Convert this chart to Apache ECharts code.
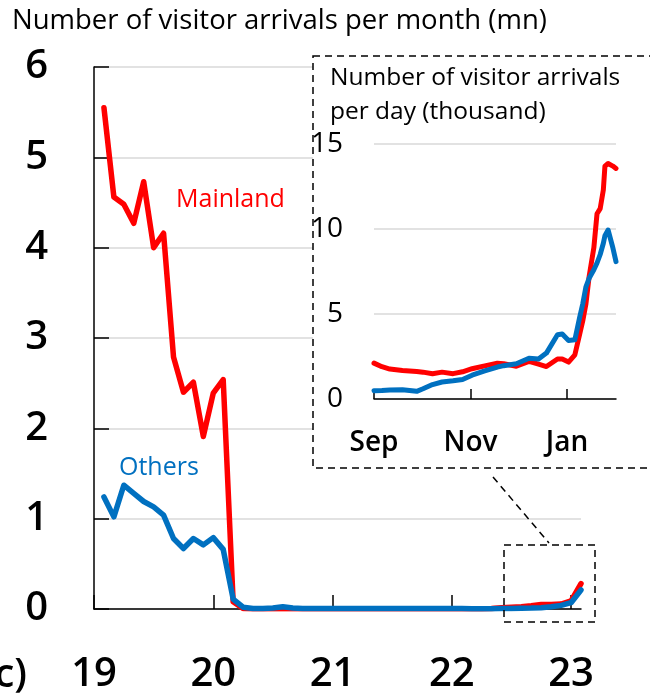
<!DOCTYPE html>
<html><head><meta charset="utf-8">
<script src="https://cdn.jsdelivr.net/npm/echarts@6/dist/echarts.min.js"></script>
<style>html,body{margin:0;padding:0;background:#fff}#c{width:650px;height:696px}</style>
</head><body><div id="c"></div>
<script>
// ---- Main chart: monthly arrivals (mn), Jan 2019 .. Jan 2023 ----
const yearTickLabels = ['19', '20', '21', '22', '23'];
const yearTickMonths = [0, 12, 24, 36, 48];
const mainlandMonthly = [
  5.55, 4.56, 4.48, 4.27, 4.73, 4.00, 4.16, 2.79, 2.40, 2.51, 1.91, 2.39,
  2.54, 0.08, 0.005, 0.002, 0.002, 0.002, 0.002, 0.002, 0.002, 0.002, 0.002, 0.002,
  0.002, 0.002, 0.002, 0.002, 0.002, 0.002, 0.002, 0.002, 0.002, 0.002, 0.002, 0.002,
  0.003, 0.002, 0.002, 0.005, 0.015, 0.02, 0.025, 0.035, 0.05, 0.05, 0.055, 0.09,
  0.28
];
const othersMonthly = [
  1.24, 1.02, 1.37, 1.28, 1.19, 1.13, 1.04, 0.78, 0.67, 0.78, 0.71, 0.79,
  0.66, 0.11, 0.02, 0.005, 0.005, 0.01, 0.025, 0.01, 0.005, 0.005, 0.005, 0.005,
  0.006, 0.006, 0.006, 0.006, 0.006, 0.006, 0.006, 0.006, 0.006, 0.006, 0.006, 0.006,
  0.005, 0.004, 0.003, 0.004, 0.005, 0.006, 0.008, 0.01, 0.015, 0.025, 0.04, 0.07,
  0.21
];

// ---- Inset: daily arrivals (thousand), day offsets from 1 Sep 2022 ----
const insetTickLabels = ['Sep', 'Nov', 'Jan'];
const insetTickDays = [0, 61, 122];
const insetDays = [0, 5, 10, 18, 27, 31, 37, 43, 50, 56, 62, 70, 78, 82, 90, 98, 104, 109, 116, 119,
  123, 127, 130, 132, 134, 136, 139, 141, 143, 145, 146, 148, 149, 151, 153];
const insetMainland = [2.11, 1.9, 1.76, 1.68, 1.62, 1.58, 1.49, 1.58, 1.49, 1.6, 1.78, 1.95, 2.1, 2.07, 1.93, 2.21, 2.05, 1.91, 2.35, 2.35,
  2.17, 2.6, 3.8, 4.6, 5.6, 7.2, 8.9, 10.9, 11.2, 12.3, 13.7, 13.85, 13.95, 13.7, 13.56];
const insetOthers = [0.49, 0.5, 0.53, 0.55, 0.45, 0.6, 0.85, 1.0, 1.07, 1.15, 1.4, 1.65, 1.88, 1.96, 2.07, 2.4, 2.35, 2.7, 3.78, 3.82,
  3.44, 3.48, 4.8, 5.6, 6.6, 7.1, 7.6, 8.0, 8.5, 9.16, 9.6, 9.94, 9.85, 8.9, 8.08];

const RED = '#FF0000', BLUE = '#0070C0';
const FONT = '"Open Sans", "Noto Sans", sans-serif';

const mainX = mainlandMonthly.map((_, i) => i + 1);
const pairs = (xs, ys) => xs.map((x, i) => [x, ys[i]]);

const chart = echarts.init(document.getElementById('c'), null, {renderer: 'canvas'});
chart.setOption({
  animation: false,
  backgroundColor: '#fff',
  textStyle: {fontFamily: FONT},
  grid: [
    {left: 94, top: 67, right: 69, bottom: 87},
    {left: 374, top: 144, right: 34, bottom: 297}
  ],
  xAxis: [
    {
      gridIndex: 0, type: 'value', min: 0, max: 49,
      axisLine: {lineStyle: {color: '#000', width: 1.5}},
      axisTick: {inside: true, length: 14, lineStyle: {color: '#000', width: 1.5}, customValues: yearTickMonths},
      axisLabel: {customValues: yearTickMonths, margin: 46, fontSize: 40, fontWeight: 600, color: '#000', fontFamily: FONT,
        formatter: v => yearTickLabels[yearTickMonths.indexOf(v)] || ''},
      splitLine: {show: false}
    },
    {
      gridIndex: 1, type: 'value', min: 0, max: 153, z: 3,
      axisLine: {lineStyle: {color: '#000', width: 1.5}},
      axisTick: {inside: true, length: 10, lineStyle: {color: '#000', width: 1.5}, customValues: insetTickDays},
      axisLabel: {customValues: insetTickDays, margin: 30, fontSize: 28, fontWeight: 600, color: '#000', fontFamily: FONT,
        formatter: v => insetTickLabels[insetTickDays.indexOf(v)] || ''},
      splitLine: {show: false}
    }
  ],
  yAxis: [
    {
      gridIndex: 0, type: 'value', min: 0, max: 6, interval: 1,
      axisLine: {show: true, lineStyle: {color: '#000', width: 1.5}},
      axisTick: {show: true, inside: true, length: 15, lineStyle: {color: '#000', width: 1.5}},
      axisLabel: {margin: 46, fontSize: 40, fontWeight: 600, color: '#000', fontFamily: FONT},
      splitLine: {lineStyle: {color: '#d9d9d9', width: 1.5}}
    },
    {
      gridIndex: 1, type: 'value', min: 0, max: 15, interval: 5, z: 3,
      axisLine: {show: false},
      axisTick: {show: false},
      axisLabel: {margin: 31, fontSize: 28, color: '#000', fontFamily: FONT},
      splitLine: {lineStyle: {color: '#d9d9d9', width: 1.5}}
    }
  ],
  series: [
    {type: 'line', xAxisIndex: 0, yAxisIndex: 0, data: pairs(mainX, mainlandMonthly), showSymbol: false,
      lineStyle: {color: RED, width: 5.5, cap: 'round', join: 'round'}, z: 2},
    {type: 'line', xAxisIndex: 0, yAxisIndex: 0, data: pairs(mainX, othersMonthly), showSymbol: false,
      lineStyle: {color: BLUE, width: 5.5, cap: 'round', join: 'round'}, z: 2},
    {type: 'line', xAxisIndex: 1, yAxisIndex: 1, data: pairs(insetDays, insetMainland), showSymbol: false,
      lineStyle: {color: RED, width: 5, cap: 'round', join: 'round'}, z: 4},
    {type: 'line', xAxisIndex: 1, yAxisIndex: 1, data: pairs(insetDays, insetOthers), showSymbol: false,
      lineStyle: {color: BLUE, width: 5, cap: 'round', join: 'round'}, z: 4}
  ],
  graphic: [
    {type: 'rect', z: 1, shape: {x: 313, y: 56, width: 345, height: 412},
      style: {fill: '#fff', stroke: '#000', lineWidth: 1.5, lineDash: [7, 5]}},
    {type: 'rect', z: 6, shape: {x: 504, y: 545, width: 91, height: 77},
      style: {fill: 'none', stroke: '#000', lineWidth: 1.5, lineDash: [7, 5]}},
    {type: 'line', z: 6, shape: {x1: 493, y1: 477, x2: 549, y2: 543},
      style: {stroke: '#000', lineWidth: 1.5, lineDash: [7, 5]}},
    {type: 'text', z: 6, x: 12, y: 21, style: {text: 'Number of visitor arrivals per month (mn)', font: '27.5px ' + FONT, fill: '#000', textVerticalAlign: 'middle'}},
    {type: 'text', z: 6, x: 330, y: 78, style: {text: 'Number of visitor arrivals', font: '24.5px ' + FONT, fill: '#000', textVerticalAlign: 'middle'}},
    {type: 'text', z: 6, x: 330, y: 112, style: {text: 'per day (thousand)', font: '24.5px ' + FONT, fill: '#000', textVerticalAlign: 'middle'}},
    {type: 'text', z: 6, x: 176, y: 200, style: {text: 'Mainland', font: '25px ' + FONT, fill: RED, textVerticalAlign: 'middle'}},
    {type: 'text', z: 6, x: 119, y: 468, style: {text: 'Others', font: '25px ' + FONT, fill: BLUE, textVerticalAlign: 'middle'}},
    {type: 'text', z: 6, x: 27, y: 676, style: {text: 'c)', font: '600 40px ' + FONT, fill: '#000', textAlign: 'right', textVerticalAlign: 'middle'}}
  ]
});
</script>
</body></html>
